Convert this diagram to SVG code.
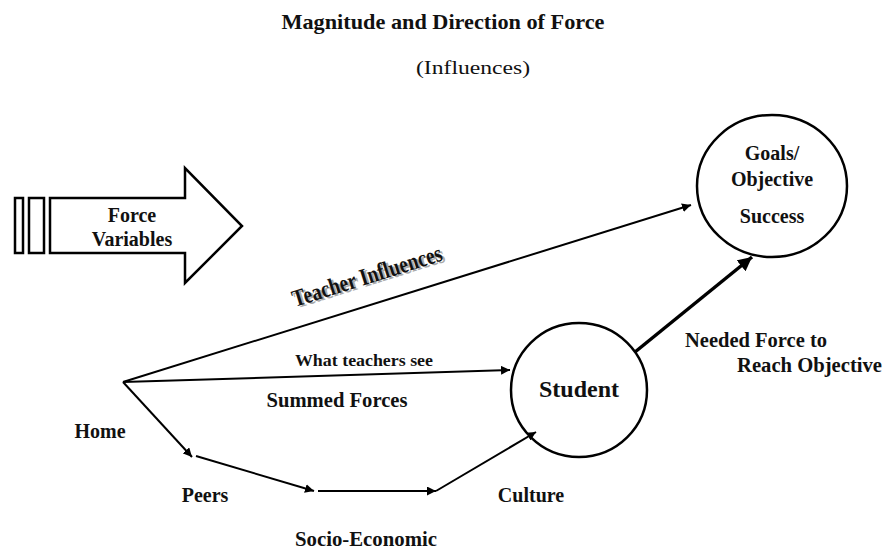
<svg xmlns="http://www.w3.org/2000/svg" width="886" height="550" viewBox="0 0 886 550">
<defs>
<marker id="ah" viewBox="0 0 10 10" refX="10" refY="5" markerWidth="9" markerHeight="9" markerUnits="userSpaceOnUse" orient="auto"><path d="M0,0 L10,5 L0,10 Z" fill="#000"/></marker>
<marker id="ahb" viewBox="0 0 10 10" refX="10" refY="5" markerWidth="4" markerHeight="4" orient="auto"><path d="M0,0 L10,5 L0,10 Z" fill="#000"/></marker>
</defs>
<style>
text{font-family:"Liberation Serif","Times New Roman",serif;fill:#111;font-weight:bold}
text.n{font-weight:normal}
text.sh{fill:#aaa}
.ln{stroke:#000;stroke-width:2;fill:none}
.shape{stroke:#000;stroke-width:2.5;fill:#fff}
</style>
<rect width="886" height="550" fill="#fff"/>
<g id="title">
<text x="443" y="29" font-size="22" text-anchor="middle" textLength="323" lengthAdjust="spacingAndGlyphs">Magnitude and Direction of Force</text>
<text x="473" y="74" font-size="19" text-anchor="middle" class="n" textLength="114" lengthAdjust="spacingAndGlyphs">(Influences)</text>
</g>
<g id="force-variables">
<rect x="15" y="198" width="8" height="55" class="shape"/>
<rect x="29" y="198" width="15" height="55" class="shape"/>
<path d="M50,198 L185,198 L185,168 L242,226 L185,283 L185,253 L50,253 Z" class="shape"/>
<text x="132" y="222" font-size="20" text-anchor="middle">Force</text>
<text x="132" y="246" font-size="20" text-anchor="middle">Variables</text>
</g>
<g id="goals">
<ellipse cx="772" cy="186" rx="75" ry="71" class="shape"/>
<text x="772" y="160" font-size="20" text-anchor="middle">Goals/</text>
<text x="772" y="186" font-size="20" text-anchor="middle">Objective</text>
<text x="772" y="223" font-size="20" text-anchor="middle">Success</text>
</g>
<g id="student">
<ellipse cx="579" cy="390" rx="68" ry="67" class="shape"/>
<text x="579" y="397" font-size="24" text-anchor="middle">Student</text>
</g>
<g id="connectors">
<line x1="123" y1="382" x2="691" y2="205" class="ln" marker-end="url(#ah)"/>
<line x1="123" y1="382" x2="510" y2="370" class="ln" marker-end="url(#ah)"/>
<line x1="123" y1="382" x2="192" y2="457" class="ln" marker-end="url(#ah)"/>
<line x1="196" y1="456" x2="314" y2="491" class="ln" marker-end="url(#ah)"/>
<line x1="318" y1="491" x2="436" y2="491" class="ln" marker-end="url(#ah)"/>
<line x1="436" y1="491" x2="536" y2="432" class="ln" marker-end="url(#ah)"/>
<line x1="635" y1="352" x2="752" y2="257" stroke="#000" stroke-width="3.5" marker-end="url(#ahb)"/>
</g>
<g id="labels">
<g transform="translate(295,307) rotate(-17.5)">
<text x="2" y="2" font-size="24" class="sh" textLength="156" lengthAdjust="spacingAndGlyphs">Teacher Influences</text>
<text x="0" y="0" font-size="24" textLength="156" lengthAdjust="spacingAndGlyphs">Teacher Influences</text>
</g>
<text x="364" y="366" font-size="17" text-anchor="middle" textLength="138" lengthAdjust="spacingAndGlyphs">What teachers see</text>
<text x="337" y="407" font-size="20" text-anchor="middle" textLength="141" lengthAdjust="spacingAndGlyphs">Summed Forces</text>
<text x="100" y="438" font-size="20" text-anchor="middle">Home</text>
<text x="205" y="502" font-size="20" text-anchor="middle">Peers</text>
<text x="531" y="502" font-size="20" text-anchor="middle">Culture</text>
<text x="366" y="546" font-size="20" text-anchor="middle" textLength="142" lengthAdjust="spacingAndGlyphs">Socio-Economic</text>
<text x="685" y="347" font-size="20" textLength="142" lengthAdjust="spacingAndGlyphs">Needed Force to</text>
<text x="737" y="372" font-size="20" textLength="145" lengthAdjust="spacingAndGlyphs">Reach Objective</text>
</g>
</svg>
